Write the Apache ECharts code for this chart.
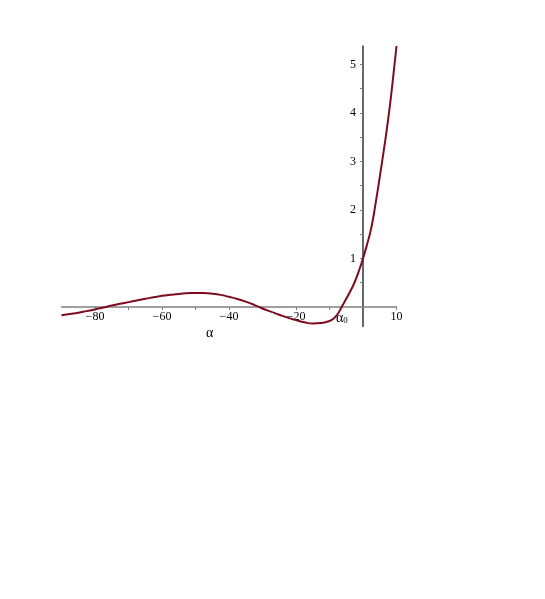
<!DOCTYPE html>
<html>
<head>
<meta charset="utf-8">
<script src="https://cdn.jsdelivr.net/npm/echarts@6/dist/echarts.min.js"></script>
<style>
html,body{margin:0;padding:0;background:#fff;}
#main{width:545px;height:599px;}
</style>
</head>
<body>
<div id="main"></div>
<script>
var alphaValues = [-90,-87.5,-85,-82.5,-80,-77.5,-75,-72.5,-70,-67.5,-65,-62.5,-60,-57.5,-55,-52.5,-50,-47.5,-45,-42.5,-40,-37.5,-35,-32.5,-30,-27.5,-25,-22.5,-20,-17.5,-15,-12.5,-10,-8.75,-7.5,-6.25,-5,-3.75,-2.5,-1.25,0,1.25,2.5,3.75,5,6.25,7.5,8.75,10];
var curveValues = [-0.17,-0.145,-0.12,-0.085,-0.05,-0.01,0.03,0.065,0.10,0.135,0.17,0.20,0.23,0.25,0.27,0.283,0.29,0.288,0.275,0.25,0.21,0.165,0.11,0.045,-0.03,-0.095,-0.16,-0.22,-0.27,-0.315,-0.34,-0.33,-0.29,-0.235,-0.14,0.015,0.17,0.33,0.51,0.74,1.0,1.30,1.64,2.13,2.68,3.25,3.86,4.58,5.38];
var xTickLabels = [-80,-60,-40,-20,10];
var xTicks = [-80,-70,-60,-50,-40,-30,-20,-10,10];
var yTickLabels = [1,2,3,4,5];
var yTicks = [0.5,1,1.5,2,2.5,3,3.5,4,4.5,5];

var data = alphaValues.map(function(a,i){return [a, curveValues[i]];});
var chart = echarts.init(document.getElementById('main'));
var serif = '"Liberation Serif","DejaVu Serif",serif';
var G = {left:61.5,right:148.5,top:46,bottom:272.6};
var xMin=-90,xMax=10,yMin=-0.4,yMax=5.38;
var plotW = 545-G.left-G.right, plotH = 599-G.top-G.bottom;
// offsets so that each axis passes through the other's zero
var yAxisOffset = -((0-xMin)/(xMax-xMin))*plotW;
var xAxisOffset = -((0-yMin)/(yMax-yMin))*plotH;
chart.setOption({
  animation:false,
  backgroundColor:'#fff',
  grid:{left:G.left,right:G.right,top:G.top,bottom:G.bottom,containLabel:false},
  xAxis:{
    type:'value',min:xMin,max:xMax,position:'bottom',offset:xAxisOffset,
    axisLine:{onZero:false,lineStyle:{color:'#808080',width:1.5}},
    axisTick:{show:true,length:3,customValues:xTicks,lineStyle:{color:'#808080'}},
    axisLabel:{customValues:xTickLabels,color:'#000',fontFamily:serif,fontSize:12,margin:4,
      formatter:function(v){return v<0?'\u2212'+Math.abs(v):String(v);}},
    splitLine:{show:false}
  },
  yAxis:{
    type:'value',min:yMin,max:yMax,position:'left',offset:yAxisOffset,
    axisLine:{onZero:false,lineStyle:{color:'#333',width:1.5}},
    axisTick:{show:true,length:3,customValues:yTicks,lineStyle:{color:'#808080'}},
    axisLabel:{customValues:yTickLabels,color:'#000',fontFamily:serif,fontSize:12,margin:7},
    splitLine:{show:false}
  },
  series:[{
    type:'line',data:data,smooth:0.5,showSymbol:false,
    lineStyle:{color:'#7d0c1e',width:2},
    z:1
  }],
  graphic:[
    {type:'text',left:206,top:326,style:{text:'\u03b1',font:'14px '+serif,fill:'#000'}},
    {type:'text',left:336,top:311,style:{text:'{a|\u03b1}{s|0}',rich:{a:{fontFamily:serif,fontSize:14,fill:'#000'},s:{fontFamily:serif,fontSize:9,fill:'#000',verticalAlign:'bottom',padding:[6,0,0,0]}}}}
  ]
});
</script>
</body>
</html>
